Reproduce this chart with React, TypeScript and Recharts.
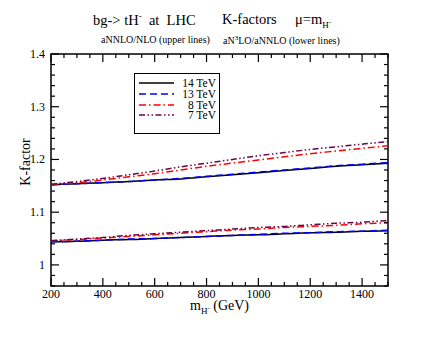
import { LineChart, Line, XAxis, YAxis, ReferenceArea } from "recharts"

const MASS = [200, 300, 400, 500, 600, 700, 800, 900, 1000, 1100, 1200, 1300, 1400, 1500]

// aNNLO/NLO (upper lines)
const UP_14 = [1.152, 1.154, 1.156, 1.158, 1.161, 1.163, 1.167, 1.171, 1.175, 1.179, 1.183, 1.187, 1.190, 1.193]
const UP_13 = [1.152, 1.154, 1.156, 1.158, 1.161, 1.164, 1.168, 1.172, 1.176, 1.180, 1.184, 1.188, 1.191, 1.194]
const UP_8 = [1.152, 1.156, 1.161, 1.167, 1.173, 1.180, 1.187, 1.193, 1.199, 1.205, 1.211, 1.216, 1.221, 1.226]
const UP_7 = [1.153, 1.158, 1.164, 1.171, 1.178, 1.186, 1.193, 1.200, 1.207, 1.213, 1.219, 1.224, 1.229, 1.234]

// aN3LO/aNNLO (lower lines)
const LO_14 = [1.044, 1.045, 1.047, 1.048, 1.050, 1.052, 1.054, 1.056, 1.057, 1.059, 1.061, 1.062, 1.064, 1.065]
const LO_13 = [1.044, 1.045, 1.047, 1.049, 1.050, 1.052, 1.054, 1.056, 1.058, 1.060, 1.061, 1.063, 1.064, 1.066]
const LO_8 = [1.046, 1.048, 1.051, 1.054, 1.057, 1.060, 1.063, 1.066, 1.068, 1.071, 1.073, 1.075, 1.078, 1.080]
const LO_7 = [1.046, 1.049, 1.052, 1.056, 1.059, 1.062, 1.065, 1.068, 1.071, 1.073, 1.076, 1.079, 1.081, 1.084]

const X_TICKS = [200, 250, 300, 350, 400, 450, 500, 550, 600, 650, 700, 750, 800, 850, 900, 950, 1000,
  1050, 1100, 1150, 1200, 1250, 1300, 1350, 1400, 1450, 1500]
const Y_TICKS = [0.96, 0.98, 1.0, 1.02, 1.04, 1.06, 1.08, 1.1, 1.12, 1.14, 1.16, 1.18, 1.2, 1.22, 1.24,
  1.26, 1.28, 1.3, 1.32, 1.34, 1.36, 1.38, 1.4]

const SERIES = [
  { key: "14", label: "14 TeV", color: "#000000", dash: undefined as string | undefined },
  { key: "13", label: "13 TeV", color: "#0000ff", dash: "7 4" },
  { key: "8", label: "8 TeV", color: "#ff0000", dash: "7 3 1.5 3" },
  { key: "7", label: "7 TeV", color: "#670748", dash: "6 2.5 1.5 2.5 1.5 2.5" },
]

const data = MASS.map((m, i) => ({
  m,
  up14: UP_14[i], up13: UP_13[i], up8: UP_8[i], up7: UP_7[i],
  lo14: LO_14[i], lo13: LO_13[i], lo8: LO_8[i], lo7: LO_7[i],
}))

const W = 436
const H = 337
const MARGIN = { top: 54, right: 48, bottom: 21, left: 21 }
const X_AXIS_H = 30
const Y_AXIS_W = 30
const PLOT_W = W - MARGIN.left - MARGIN.right - Y_AXIS_W
const PLOT_H = H - MARGIN.top - MARGIN.bottom - X_AXIS_H
const FONT = "'Liberation Serif', 'DejaVu Serif', serif"

const XTick = (props: any) => {
  const { x, y, payload } = props
  const v = payload.value as number
  const major = v % 200 === 0
  const len = major ? 8 : 4
  return (
    <g>
      <line x1={x} y1={y} x2={x} y2={y - len} stroke="#000" strokeWidth={1.2} />
      <line x1={x} y1={y - PLOT_H} x2={x} y2={y - PLOT_H + len} stroke="#000" strokeWidth={1.2} />
      {major && (
        <text x={x} y={y + 12} textAnchor="middle" fontSize={12} fontFamily={FONT} fill="#000">{v}</text>
      )}
    </g>
  )
}

const YTick = (props: any) => {
  const { x, y, payload } = props
  const v = payload.value as number
  const major = Math.abs(v * 10 - Math.round(v * 10)) < 1e-6
  const len = major ? 8 : 4
  return (
    <g>
      <line x1={x} y1={y} x2={x + len} y2={y} stroke="#000" strokeWidth={1.2} />
      <line x1={x + PLOT_W} y1={y} x2={x + PLOT_W - len} y2={y} stroke="#000" strokeWidth={1.2} />
      {major && (
        <text x={x - 6} y={y + 4} textAnchor="end" fontSize={12} fontFamily={FONT} fill="#000">{String(+v.toFixed(2))}</text>
      )}
    </g>
  )
}

const abs = (left: number, top: number, extra: React.CSSProperties = {}): React.CSSProperties => ({
  position: "absolute", left, top, whiteSpace: "nowrap", lineHeight: 1, ...extra,
})

export default function App() {
  return (
    <div style={{ position: "absolute", left: 0, top: 0, width: W, height: H, background: "#fff", fontFamily: FONT, color: "#000" }}>
      <LineChart width={W} height={H} data={data} margin={MARGIN}>
        <XAxis dataKey="m" type="number" domain={[200, 1500]} ticks={X_TICKS} interval={0}
          tick={<XTick />} tickLine={false} tickSize={0} tickMargin={0} height={X_AXIS_H}
          axisLine={false} allowDataOverflow />
        <YAxis type="number" domain={[0.96, 1.4]} ticks={Y_TICKS} interval={0}
          tick={<YTick />} tickLine={false} tickSize={0} tickMargin={0} width={Y_AXIS_W}
          axisLine={false} allowDataOverflow />
        <ReferenceArea x1={200} x2={1500} y1={0.96} y2={1.4} fill="none" stroke="#000" strokeWidth={1.5} ifOverflow="visible" />
        {SERIES.map(s => (
          <Line key={"up" + s.key} type="monotone" dataKey={"up" + s.key} stroke={s.color}
            strokeDasharray={s.dash} strokeWidth={1.5} dot={false} isAnimationActive={false} />
        ))}
        {SERIES.map(s => (
          <Line key={"lo" + s.key} type="monotone" dataKey={"lo" + s.key} stroke={s.color}
            strokeDasharray={s.dash} strokeWidth={1.5} dot={false} isAnimationActive={false} />
        ))}
      </LineChart>

      {/* title */}
      <div style={abs(93, 12, { fontSize: 14.5 })}>
        bg-&gt; tH<sup style={{ fontSize: 9 }}>-</sup>&nbsp; at&nbsp; LHC
      </div>
      <div style={abs(222, 12, { fontSize: 14.5 })}>K-factors</div>
      <div style={abs(295, 12, { fontSize: 14.5 })}>
        μ=m<sub style={{ fontSize: 9 }}>H<sup style={{ fontSize: 7 }}>-</sup></sub>
      </div>
      <div style={abs(101, 35, { fontSize: 10 })}>aNNLO/NLO (upper lines)</div>
      <div style={abs(223, 35, { fontSize: 10 })}>
        aN<sup style={{ fontSize: 7 }}>3</sup>LO/aNNLO (lower lines)
      </div>

      {/* legend */}
      <div style={{ position: "absolute", left: 134, top: 73, width: 84, height: 59, border: "1px solid #000", background: "#fff" }}>
        {SERIES.map((s, i) => (
          <div key={s.key} style={{ position: "absolute", left: 0, top: 4 + i * 10.8, width: 84, height: 10 }}>
            <svg width={40} height={10} style={{ position: "absolute", left: 4, top: 0 }}>
              <line x1={0} y1={5} x2={35} y2={5} stroke={s.color} strokeWidth={1.5} strokeDasharray={s.dash} />
            </svg>
            <span style={{ position: "absolute", right: 3, top: 0, fontSize: 11.5, lineHeight: "10px" }}>{s.label}</span>
          </div>
        ))}
      </div>

      {/* axis labels */}
      <div style={abs(190, 299, { fontSize: 14 })}>
        m<sub style={{ fontSize: 9 }}>H<sup style={{ fontSize: 7 }}>-</sup></sub> (GeV)
      </div>
      <div style={abs(26, 162, { fontSize: 14, transform: "translate(-50%, -50%) rotate(-90deg)" })}>K-factor</div>
    </div>
  )
}
